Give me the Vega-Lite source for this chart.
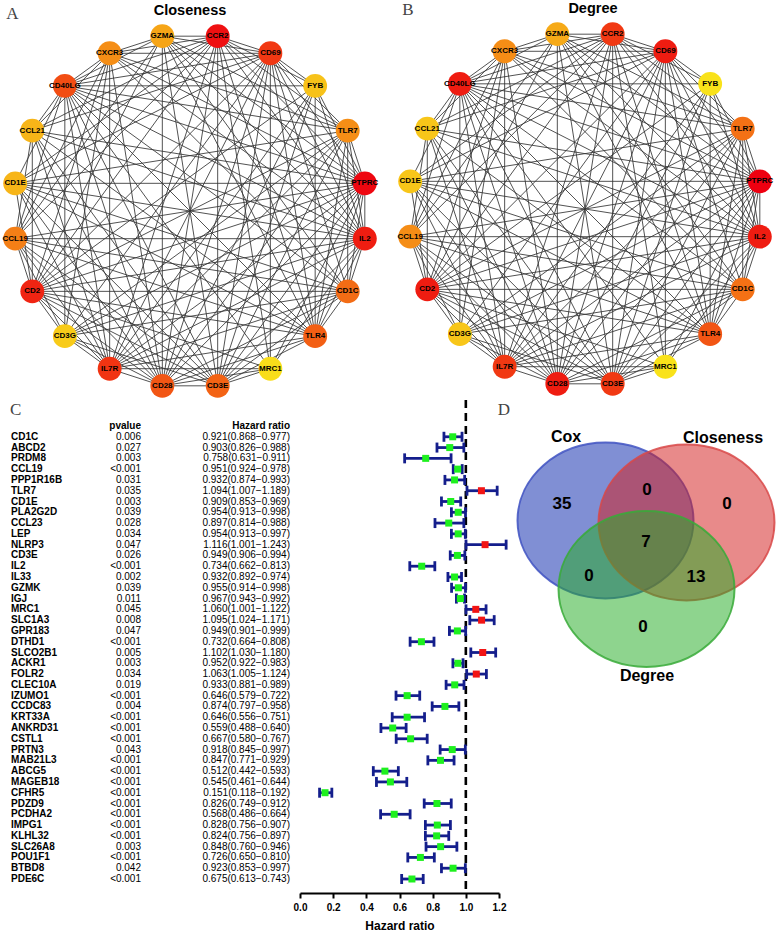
{
"$schema":"https://vega.github.io/schema/vega-lite/v6.json",
"padding":0,"background":"white","spacing":0,"bounds":"flush",
"config":{"view":{"stroke":null},"font":"Liberation Sans","axis":{"grid":false}},
"datasets":{
"nodes":[
{"id":"GZMA","x":-0.1564,"y":0.9877,"deg":13,"clo":0.708},
{"id":"CCR2","x":0.1564,"y":0.9877,"deg":17,"clo":0.972},
{"id":"CD69","x":0.4540,"y":0.8910,"deg":18,"clo":0.900},
{"id":"FYB","x":0.7071,"y":0.7071,"deg":10,"clo":0.656},
{"id":"TLR7","x":0.8910,"y":0.4540,"deg":15,"clo":0.748},
{"id":"PTPRC","x":0.9877,"y":0.1564,"deg":19,"clo":0.988},
{"id":"IL2","x":0.9877,"y":-0.1564,"deg":18,"clo":0.948},
{"id":"CD1C","x":0.8910,"y":-0.4540,"deg":15,"clo":0.808},
{"id":"TLR4","x":0.7071,"y":-0.7071,"deg":16,"clo":0.832},
{"id":"MRC1","x":0.4540,"y":-0.8910,"deg":9,"clo":0.608},
{"id":"CD3E","x":0.1564,"y":-0.9877,"deg":17,"clo":0.824},
{"id":"CD28","x":-0.1564,"y":-0.9877,"deg":18,"clo":0.848},
{"id":"IL7R","x":-0.4540,"y":-0.8910,"deg":17,"clo":0.908},
{"id":"CD3G","x":-0.7071,"y":-0.7071,"deg":12,"clo":0.640},
{"id":"CD2","x":-0.8910,"y":-0.4540,"deg":18,"clo":0.936},
{"id":"CCL19","x":-0.9877,"y":-0.1564,"deg":14,"clo":0.776},
{"id":"CD1E","x":-0.9877,"y":0.1564,"deg":12,"clo":0.680},
{"id":"CCL21","x":-0.8910,"y":0.4540,"deg":12,"clo":0.680},
{"id":"CD40LG","x":-0.7071,"y":0.7071,"deg":18,"clo":0.864},
{"id":"CXCR3","x":-0.4540,"y":0.8910,"deg":14,"clo":0.748}
],
"edges":[
{"s":"GZMA","t":"CCR2"},{"s":"GZMA","t":"CD69"},{"s":"GZMA","t":"TLR7"},{"s":"GZMA","t":"PTPRC"},{"s":"GZMA","t":"IL2"},{"s":"GZMA","t":"CD1C"},{"s":"GZMA","t":"TLR4"},{"s":"GZMA","t":"CD3E"},{"s":"GZMA","t":"CD28"},{"s":"GZMA","t":"CD2"},{"s":"GZMA","t":"CCL19"},{"s":"GZMA","t":"CD40LG"},{"s":"GZMA","t":"CXCR3"},
{"s":"CCR2","t":"CD69"},{"s":"CCR2","t":"FYB"},{"s":"CCR2","t":"TLR7"},{"s":"CCR2","t":"PTPRC"},{"s":"CCR2","t":"IL2"},{"s":"CCR2","t":"TLR4"},{"s":"CCR2","t":"MRC1"},{"s":"CCR2","t":"CD3E"},{"s":"CCR2","t":"CD28"},{"s":"CCR2","t":"IL7R"},{"s":"CCR2","t":"CD2"},{"s":"CCR2","t":"CCL19"},{"s":"CCR2","t":"CD1E"},{"s":"CCR2","t":"CCL21"},{"s":"CCR2","t":"CD40LG"},{"s":"CCR2","t":"CXCR3"},
{"s":"CD69","t":"FYB"},{"s":"CD69","t":"TLR7"},{"s":"CD69","t":"PTPRC"},{"s":"CD69","t":"IL2"},{"s":"CD69","t":"CD1C"},{"s":"CD69","t":"TLR4"},{"s":"CD69","t":"MRC1"},{"s":"CD69","t":"CD3E"},{"s":"CD69","t":"CD28"},{"s":"CD69","t":"IL7R"},{"s":"CD69","t":"CD3G"},{"s":"CD69","t":"CD2"},{"s":"CD69","t":"CD1E"},{"s":"CD69","t":"CCL21"},{"s":"CD69","t":"CD40LG"},{"s":"CD69","t":"CXCR3"},
{"s":"FYB","t":"PTPRC"},{"s":"FYB","t":"IL2"},{"s":"FYB","t":"TLR4"},{"s":"FYB","t":"CD3E"},{"s":"FYB","t":"CD28"},{"s":"FYB","t":"IL7R"},{"s":"FYB","t":"CD2"},{"s":"FYB","t":"CD40LG"},
{"s":"TLR7","t":"PTPRC"},{"s":"TLR7","t":"IL2"},{"s":"TLR7","t":"CD1C"},{"s":"TLR7","t":"TLR4"},{"s":"TLR7","t":"CD3E"},{"s":"TLR7","t":"CD28"},{"s":"TLR7","t":"IL7R"},{"s":"TLR7","t":"CD3G"},{"s":"TLR7","t":"CD2"},{"s":"TLR7","t":"CD1E"},{"s":"TLR7","t":"CD40LG"},{"s":"TLR7","t":"CXCR3"},
{"s":"PTPRC","t":"IL2"},{"s":"PTPRC","t":"CD1C"},{"s":"PTPRC","t":"TLR4"},{"s":"PTPRC","t":"MRC1"},{"s":"PTPRC","t":"CD3E"},{"s":"PTPRC","t":"CD28"},{"s":"PTPRC","t":"IL7R"},{"s":"PTPRC","t":"CD3G"},{"s":"PTPRC","t":"CD2"},{"s":"PTPRC","t":"CCL19"},{"s":"PTPRC","t":"CD1E"},{"s":"PTPRC","t":"CCL21"},{"s":"PTPRC","t":"CD40LG"},{"s":"PTPRC","t":"CXCR3"},
{"s":"IL2","t":"CD1C"},{"s":"IL2","t":"TLR4"},{"s":"IL2","t":"MRC1"},{"s":"IL2","t":"CD3E"},{"s":"IL2","t":"IL7R"},{"s":"IL2","t":"CD3G"},{"s":"IL2","t":"CD2"},{"s":"IL2","t":"CCL19"},{"s":"IL2","t":"CD1E"},{"s":"IL2","t":"CCL21"},{"s":"IL2","t":"CD40LG"},{"s":"IL2","t":"CXCR3"},
{"s":"CD1C","t":"TLR4"},{"s":"CD1C","t":"CD3E"},{"s":"CD1C","t":"CD28"},{"s":"CD1C","t":"IL7R"},{"s":"CD1C","t":"CD3G"},{"s":"CD1C","t":"CD2"},{"s":"CD1C","t":"CCL19"},{"s":"CD1C","t":"CD1E"},{"s":"CD1C","t":"CD40LG"},{"s":"CD1C","t":"CXCR3"},
{"s":"TLR4","t":"CD3E"},{"s":"TLR4","t":"CD28"},{"s":"TLR4","t":"IL7R"},{"s":"TLR4","t":"CD2"},{"s":"TLR4","t":"CCL19"},{"s":"TLR4","t":"CD1E"},{"s":"TLR4","t":"CCL21"},{"s":"TLR4","t":"CD40LG"},
{"s":"MRC1","t":"CD3E"},{"s":"MRC1","t":"CD28"},{"s":"MRC1","t":"IL7R"},{"s":"MRC1","t":"CD2"},{"s":"MRC1","t":"CD40LG"},
{"s":"CD3E","t":"CD28"},{"s":"CD3E","t":"CD3G"},{"s":"CD3E","t":"CD2"},{"s":"CD3E","t":"CCL19"},{"s":"CD3E","t":"CD1E"},{"s":"CD3E","t":"CCL21"},{"s":"CD3E","t":"CD40LG"},
{"s":"CD28","t":"IL7R"},{"s":"CD28","t":"CD3G"},{"s":"CD28","t":"CD2"},{"s":"CD28","t":"CCL19"},{"s":"CD28","t":"CD1E"},{"s":"CD28","t":"CCL21"},{"s":"CD28","t":"CD40LG"},{"s":"CD28","t":"CXCR3"},
{"s":"IL7R","t":"CD3G"},{"s":"IL7R","t":"CD2"},{"s":"IL7R","t":"CCL19"},{"s":"IL7R","t":"CD1E"},{"s":"IL7R","t":"CCL21"},{"s":"IL7R","t":"CD40LG"},{"s":"IL7R","t":"CXCR3"},
{"s":"CD3G","t":"CD2"},{"s":"CD3G","t":"CCL19"},{"s":"CD3G","t":"CD40LG"},{"s":"CD3G","t":"CXCR3"},
{"s":"CD2","t":"CCL19"},{"s":"CD2","t":"CD1E"},{"s":"CD2","t":"CCL21"},{"s":"CD2","t":"CXCR3"},
{"s":"CCL19","t":"CCL21"},{"s":"CCL19","t":"CD40LG"},{"s":"CCL19","t":"CXCR3"},
{"s":"CD1E","t":"CD40LG"},
{"s":"CCL21","t":"CD40LG"},{"s":"CCL21","t":"CXCR3"},
{"s":"CD40LG","t":"CXCR3"}
],
"genes":[
{"gene":"CD1C","p":"0.006","hr":0.921,"lo":0.868,"hi":0.977,"hrText":"0.921(0.868−0.977)"},
{"gene":"ABCD2","p":"0.027","hr":0.903,"lo":0.826,"hi":0.988,"hrText":"0.903(0.826−0.988)"},
{"gene":"PRDM8","p":"0.003","hr":0.758,"lo":0.631,"hi":0.911,"hrText":"0.758(0.631−0.911)"},
{"gene":"CCL19","p":"<0.001","hr":0.951,"lo":0.924,"hi":0.978,"hrText":"0.951(0.924−0.978)"},
{"gene":"PPP1R16B","p":"0.031","hr":0.932,"lo":0.874,"hi":0.993,"hrText":"0.932(0.874−0.993)"},
{"gene":"TLR7","p":"0.035","hr":1.094,"lo":1.007,"hi":1.189,"hrText":"1.094(1.007−1.189)"},
{"gene":"CD1E","p":"0.003","hr":0.909,"lo":0.853,"hi":0.969,"hrText":"0.909(0.853−0.969)"},
{"gene":"PLA2G2D","p":"0.039","hr":0.954,"lo":0.913,"hi":0.998,"hrText":"0.954(0.913−0.998)"},
{"gene":"CCL23","p":"0.028","hr":0.897,"lo":0.814,"hi":0.988,"hrText":"0.897(0.814−0.988)"},
{"gene":"LEP","p":"0.034","hr":0.954,"lo":0.913,"hi":0.997,"hrText":"0.954(0.913−0.997)"},
{"gene":"NLRP3","p":"0.047","hr":1.116,"lo":1.001,"hi":1.243,"hrText":"1.116(1.001−1.243)"},
{"gene":"CD3E","p":"0.026","hr":0.949,"lo":0.906,"hi":0.994,"hrText":"0.949(0.906−0.994)"},
{"gene":"IL2","p":"<0.001","hr":0.734,"lo":0.662,"hi":0.813,"hrText":"0.734(0.662−0.813)"},
{"gene":"IL33","p":"0.002","hr":0.932,"lo":0.892,"hi":0.974,"hrText":"0.932(0.892−0.974)"},
{"gene":"GZMK","p":"0.039","hr":0.955,"lo":0.914,"hi":0.998,"hrText":"0.955(0.914−0.998)"},
{"gene":"IGJ","p":"0.011","hr":0.967,"lo":0.943,"hi":0.992,"hrText":"0.967(0.943−0.992)"},
{"gene":"MRC1","p":"0.045","hr":1.060,"lo":1.001,"hi":1.122,"hrText":"1.060(1.001−1.122)"},
{"gene":"SLC1A3","p":"0.008","hr":1.095,"lo":1.024,"hi":1.171,"hrText":"1.095(1.024−1.171)"},
{"gene":"GPR183","p":"0.047","hr":0.949,"lo":0.901,"hi":0.999,"hrText":"0.949(0.901−0.999)"},
{"gene":"DTHD1","p":"<0.001","hr":0.732,"lo":0.664,"hi":0.808,"hrText":"0.732(0.664−0.808)"},
{"gene":"SLCO2B1","p":"0.005","hr":1.102,"lo":1.030,"hi":1.180,"hrText":"1.102(1.030−1.180)"},
{"gene":"ACKR1","p":"0.003","hr":0.952,"lo":0.922,"hi":0.983,"hrText":"0.952(0.922−0.983)"},
{"gene":"FOLR2","p":"0.034","hr":1.063,"lo":1.005,"hi":1.124,"hrText":"1.063(1.005−1.124)"},
{"gene":"CLEC10A","p":"0.019","hr":0.933,"lo":0.881,"hi":0.989,"hrText":"0.933(0.881−0.989)"},
{"gene":"IZUMO1","p":"<0.001","hr":0.646,"lo":0.579,"hi":0.722,"hrText":"0.646(0.579−0.722)"},
{"gene":"CCDC83","p":"0.004","hr":0.874,"lo":0.797,"hi":0.958,"hrText":"0.874(0.797−0.958)"},
{"gene":"KRT33A","p":"<0.001","hr":0.646,"lo":0.556,"hi":0.751,"hrText":"0.646(0.556−0.751)"},
{"gene":"ANKRD31","p":"<0.001","hr":0.559,"lo":0.488,"hi":0.640,"hrText":"0.559(0.488−0.640)"},
{"gene":"CSTL1","p":"<0.001","hr":0.667,"lo":0.580,"hi":0.767,"hrText":"0.667(0.580−0.767)"},
{"gene":"PRTN3","p":"0.043","hr":0.918,"lo":0.845,"hi":0.997,"hrText":"0.918(0.845−0.997)"},
{"gene":"MAB21L3","p":"<0.001","hr":0.847,"lo":0.771,"hi":0.929,"hrText":"0.847(0.771−0.929)"},
{"gene":"ABCG5","p":"<0.001","hr":0.512,"lo":0.442,"hi":0.593,"hrText":"0.512(0.442−0.593)"},
{"gene":"MAGEB18","p":"<0.001","hr":0.545,"lo":0.461,"hi":0.644,"hrText":"0.545(0.461−0.644)"},
{"gene":"CFHR5","p":"<0.001","hr":0.151,"lo":0.118,"hi":0.192,"hrText":"0.151(0.118−0.192)"},
{"gene":"PDZD9","p":"<0.001","hr":0.826,"lo":0.749,"hi":0.912,"hrText":"0.826(0.749−0.912)"},
{"gene":"PCDHA2","p":"<0.001","hr":0.568,"lo":0.486,"hi":0.664,"hrText":"0.568(0.486−0.664)"},
{"gene":"IMPG1","p":"<0.001","hr":0.828,"lo":0.756,"hi":0.907,"hrText":"0.828(0.756−0.907)"},
{"gene":"KLHL32","p":"<0.001","hr":0.824,"lo":0.756,"hi":0.897,"hrText":"0.824(0.756−0.897)"},
{"gene":"SLC26A8","p":"0.003","hr":0.848,"lo":0.760,"hi":0.946,"hrText":"0.848(0.760−0.946)"},
{"gene":"POU1F1","p":"<0.001","hr":0.726,"lo":0.650,"hi":0.810,"hrText":"0.726(0.650−0.810)"},
{"gene":"BTBD8","p":"0.042","hr":0.923,"lo":0.853,"hi":0.997,"hrText":"0.923(0.853−0.997)"},
{"gene":"PDE6C","p":"<0.001","hr":0.675,"lo":0.613,"hi":0.743,"hrText":"0.675(0.613−0.743)"}
],
"venn":[
{"set":"Cox","x":-0.405,"y":0.395},
{"set":"Closeness","x":0.405,"y":0.375},
{"set":"Degree","x":0.005,"y":-0.29}
],
"vennSets":[
{"label":"Cox","x":-0.80,"y":1.23},
{"label":"Closeness","x":0.77,"y":1.22},
{"label":"Degree","x":0.01,"y":-1.16}
],
"vennCounts":[
{"n":"35","x":-0.84,"y":0.56},
{"n":"0","x":0.01,"y":0.70},
{"n":"0","x":0.81,"y":0.56},
{"n":"7","x":0.0,"y":0.18},
{"n":"0","x":-0.57,"y":-0.16},
{"n":"13","x":0.50,"y":-0.17},
{"n":"0","x":-0.03,"y":-0.67}
]
},
"vconcat":[
{"width":777,"height":398,
"resolve":{"scale":{"x":"independent","y":"independent","color":"independent"}},
"layer":[
{"data":{"name":"edges"},
"transform":[{"lookup":"s","from":{"data":{"name":"nodes"},"key":"id","fields":["x","y"]},"as":["x1","y1"]},{"lookup":"t","from":{"data":{"name":"nodes"},"key":"id","fields":["x","y"]},"as":["x2","y2"]}],
"mark":{"type":"rule","color":"#333","strokeWidth":0.85},
"encoding":{"x":{"field":"x1","type":"quantitative","scale":{"domain":[-1,1],"range":[13,367],"nice":false,"zero":false},"axis":null},"y":{"field":"y1","type":"quantitative","scale":{"domain":[-1,1],"range":[386,32],"nice":false,"zero":false},"axis":null},"x2":{"field":"x2"},"y2":{"field":"y2"}}},
{"data":{"name":"nodes"},"mark":{"type":"circle","size":570,"opacity":1},
"encoding":{"x":{"field":"x","type":"quantitative","scale":{"domain":[-1,1],"range":[13,367],"nice":false,"zero":false},"axis":null},"y":{"field":"y","type":"quantitative","scale":{"domain":[-1,1],"range":[386,32],"nice":false,"zero":false},"axis":null},
"color":{"field":"clo","type":"quantitative","scale":{"domain":[0.6,1.0],"range":["#f9e21a","#ee0010"],"interpolate":"rgb","clamp":true},"legend":null}}},
{"data":{"name":"nodes"},"mark":{"type":"text","fontSize":8,"fontWeight":"bold","color":"black","baseline":"middle"},
"encoding":{"x":{"field":"x","type":"quantitative","scale":{"domain":[-1,1],"range":[13,367],"nice":false,"zero":false},"axis":null},"y":{"field":"y","type":"quantitative","scale":{"domain":[-1,1],"range":[386,32],"nice":false,"zero":false},"axis":null},"text":{"field":"id"}}},
{"data":{"values":[{"t":"Closeness"}]},"mark":{"type":"text","fontSize":14.5,"fontWeight":"bold","color":"black","baseline":"middle"},
"encoding":{"x":{"datum":0,"type":"quantitative","scale":{"domain":[-1,1],"range":[13,367],"nice":false,"zero":false},"axis":null},"y":{"datum":1.13,"type":"quantitative","scale":{"domain":[-1,1],"range":[386,32],"nice":false,"zero":false},"axis":null},"text":{"field":"t"}}},
{"data":{"values":[{"t":"A"}]},"mark":{"type":"text","font":"Liberation Serif","fontSize":17,"color":"#444","baseline":"middle"},
"encoding":{"x":{"datum":-1.003,"type":"quantitative","scale":{"domain":[-1,1],"range":[13,367],"nice":false,"zero":false},"axis":null},"y":{"datum":1.113,"type":"quantitative","scale":{"domain":[-1,1],"range":[386,32],"nice":false,"zero":false},"axis":null},"text":{"field":"t"}}},
{"data":{"name":"edges"},
"transform":[{"lookup":"s","from":{"data":{"name":"nodes"},"key":"id","fields":["x","y"]},"as":["x1","y1"]},{"lookup":"t","from":{"data":{"name":"nodes"},"key":"id","fields":["x","y"]},"as":["x2","y2"]}],
"mark":{"type":"rule","color":"#333","strokeWidth":0.85},
"encoding":{"x":{"field":"x1","type":"quantitative","scale":{"domain":[-1,1],"range":[408,762],"nice":false,"zero":false},"axis":null},"y":{"field":"y1","type":"quantitative","scale":{"domain":[-1,1],"range":[384,30],"nice":false,"zero":false},"axis":null},"x2":{"field":"x2"},"y2":{"field":"y2"}}},
{"data":{"name":"nodes"},"mark":{"type":"circle","size":570,"opacity":1},
"encoding":{"x":{"field":"x","type":"quantitative","scale":{"domain":[-1,1],"range":[408,762],"nice":false,"zero":false},"axis":null},"y":{"field":"y","type":"quantitative","scale":{"domain":[-1,1],"range":[384,30],"nice":false,"zero":false},"axis":null},
"color":{"field":"deg","type":"quantitative","scale":{"domain":[11,19],"range":["#f9e21a","#ee0010"],"interpolate":"rgb","clamp":true},"legend":null}}},
{"data":{"name":"nodes"},"mark":{"type":"text","fontSize":8,"fontWeight":"bold","color":"black","baseline":"middle"},
"encoding":{"x":{"field":"x","type":"quantitative","scale":{"domain":[-1,1],"range":[408,762],"nice":false,"zero":false},"axis":null},"y":{"field":"y","type":"quantitative","scale":{"domain":[-1,1],"range":[384,30],"nice":false,"zero":false},"axis":null},"text":{"field":"id"}}},
{"data":{"values":[{"t":"Degree"}]},"mark":{"type":"text","fontSize":14.5,"fontWeight":"bold","color":"black","baseline":"middle"},
"encoding":{"x":{"datum":0.045,"type":"quantitative","scale":{"domain":[-1,1],"range":[408,762],"nice":false,"zero":false},"axis":null},"y":{"datum":1.13,"type":"quantitative","scale":{"domain":[-1,1],"range":[384,30],"nice":false,"zero":false},"axis":null},"text":{"field":"t"}}},
{"data":{"values":[{"t":"B"}]},"mark":{"type":"text","font":"Liberation Serif","fontSize":17,"color":"#444","baseline":"middle"},
"encoding":{"x":{"datum":-1.0,"type":"quantitative","scale":{"domain":[-1,1],"range":[408,762],"nice":false,"zero":false},"axis":null},"y":{"datum":1.124,"type":"quantitative","scale":{"domain":[-1,1],"range":[384,30],"nice":false,"zero":false},"axis":null},"text":{"field":"t"}}}
]},
{"width":777,"height":493,
"resolve":{"scale":{"x":"independent","y":"independent","color":"independent","fill":"independent","stroke":"independent"}},
"layer":[
{"data":{"name":"genes"},"mark":{"type":"text","align":"left","baseline":"middle","fontSize":10,"fontWeight":"bold","color":"black"},
"encoding":{"x":{"datum":"gene","type":"nominal","scale":{"type":"point","domain":["gene","pvalue","hr"],"range":[11,290],"padding":0,"round":false},"axis":null},
"y":{"field":"gene","type":"nominal","scale":{"type":"point","domain":["header","CD1C","ABCD2","PRDM8","CCL19","PPP1R16B","TLR7","CD1E","PLA2G2D","CCL23","LEP","NLRP3","CD3E","IL2","IL33","GZMK","IGJ","MRC1","SLC1A3","GPR183","DTHD1","SLCO2B1","ACKR1","FOLR2","CLEC10A","IZUMO1","CCDC83","KRT33A","ANKRD31","CSTL1","PRTN3","MAB21L3","ABCG5","MAGEB18","CFHR5","PDZD9","PCDHA2","IMPG1","KLHL32","SLC26A8","POU1F1","BTBD8","PDE6C"],"range":[26,479],"padding":0,"round":false},"axis":null},
"text":{"field":"gene"}}},
{"data":{"name":"genes"},"mark":{"type":"text","align":"right","baseline":"middle","fontSize":10,"color":"black","dx":-9.5},
"encoding":{"x":{"datum":"pvalue","type":"nominal","scale":{"type":"point","domain":["gene","pvalue","hr"],"range":[11,290],"padding":0,"round":false},"axis":null},
"y":{"field":"gene","type":"nominal","scale":{"type":"point","domain":["header","CD1C","ABCD2","PRDM8","CCL19","PPP1R16B","TLR7","CD1E","PLA2G2D","CCL23","LEP","NLRP3","CD3E","IL2","IL33","GZMK","IGJ","MRC1","SLC1A3","GPR183","DTHD1","SLCO2B1","ACKR1","FOLR2","CLEC10A","IZUMO1","CCDC83","KRT33A","ANKRD31","CSTL1","PRTN3","MAB21L3","ABCG5","MAGEB18","CFHR5","PDZD9","PCDHA2","IMPG1","KLHL32","SLC26A8","POU1F1","BTBD8","PDE6C"],"range":[26,479],"padding":0,"round":false},"axis":null},
"text":{"field":"p"}}},
{"data":{"name":"genes"},"mark":{"type":"text","align":"right","baseline":"middle","fontSize":10,"color":"black"},
"encoding":{"x":{"datum":"hr","type":"nominal","scale":{"type":"point","domain":["gene","pvalue","hr"],"range":[11,290],"padding":0,"round":false},"axis":null},
"y":{"field":"gene","type":"nominal","scale":{"type":"point","domain":["header","CD1C","ABCD2","PRDM8","CCL19","PPP1R16B","TLR7","CD1E","PLA2G2D","CCL23","LEP","NLRP3","CD3E","IL2","IL33","GZMK","IGJ","MRC1","SLC1A3","GPR183","DTHD1","SLCO2B1","ACKR1","FOLR2","CLEC10A","IZUMO1","CCDC83","KRT33A","ANKRD31","CSTL1","PRTN3","MAB21L3","ABCG5","MAGEB18","CFHR5","PDZD9","PCDHA2","IMPG1","KLHL32","SLC26A8","POU1F1","BTBD8","PDE6C"],"range":[26,479],"padding":0,"round":false},"axis":null},
"text":{"field":"hrText"}}},
{"data":{"values":[{"h":"Hazard ratio"}]},"mark":{"type":"text","align":"right","baseline":"middle","fontSize":10,"fontWeight":"bold","color":"black"},
"encoding":{"x":{"datum":"hr","type":"nominal","scale":{"type":"point","domain":["gene","pvalue","hr"],"range":[11,290],"padding":0,"round":false},"axis":null},
"y":{"datum":"header","type":"nominal","scale":{"type":"point","domain":["header","CD1C","ABCD2","PRDM8","CCL19","PPP1R16B","TLR7","CD1E","PLA2G2D","CCL23","LEP","NLRP3","CD3E","IL2","IL33","GZMK","IGJ","MRC1","SLC1A3","GPR183","DTHD1","SLCO2B1","ACKR1","FOLR2","CLEC10A","IZUMO1","CCDC83","KRT33A","ANKRD31","CSTL1","PRTN3","MAB21L3","ABCG5","MAGEB18","CFHR5","PDZD9","PCDHA2","IMPG1","KLHL32","SLC26A8","POU1F1","BTBD8","PDE6C"],"range":[26,479],"padding":0,"round":false},"axis":null},
"text":{"field":"h"}}},
{"data":{"values":[{"h":"pvalue"}]},"mark":{"type":"text","align":"right","baseline":"middle","fontSize":10,"fontWeight":"bold","color":"black","dx":-9.5},
"encoding":{"x":{"datum":"pvalue","type":"nominal","scale":{"type":"point","domain":["gene","pvalue","hr"],"range":[11,290],"padding":0,"round":false},"axis":null},
"y":{"datum":"header","type":"nominal","scale":{"type":"point","domain":["header","CD1C","ABCD2","PRDM8","CCL19","PPP1R16B","TLR7","CD1E","PLA2G2D","CCL23","LEP","NLRP3","CD3E","IL2","IL33","GZMK","IGJ","MRC1","SLC1A3","GPR183","DTHD1","SLCO2B1","ACKR1","FOLR2","CLEC10A","IZUMO1","CCDC83","KRT33A","ANKRD31","CSTL1","PRTN3","MAB21L3","ABCG5","MAGEB18","CFHR5","PDZD9","PCDHA2","IMPG1","KLHL32","SLC26A8","POU1F1","BTBD8","PDE6C"],"range":[26,479],"padding":0,"round":false},"axis":null},
"text":{"field":"h"}}},
{"data":{"values":[{"h":"C"}]},"mark":{"type":"text","align":"left","baseline":"middle","font":"Liberation Serif","fontSize":17,"color":"#444","dy":-16,"dx":-1},
"encoding":{"x":{"datum":"gene","type":"nominal","scale":{"type":"point","domain":["gene","pvalue","hr"],"range":[11,290],"padding":0,"round":false},"axis":null},
"y":{"datum":"header","type":"nominal","scale":{"type":"point","domain":["header","CD1C","ABCD2","PRDM8","CCL19","PPP1R16B","TLR7","CD1E","PLA2G2D","CCL23","LEP","NLRP3","CD3E","IL2","IL33","GZMK","IGJ","MRC1","SLC1A3","GPR183","DTHD1","SLCO2B1","ACKR1","FOLR2","CLEC10A","IZUMO1","CCDC83","KRT33A","ANKRD31","CSTL1","PRTN3","MAB21L3","ABCG5","MAGEB18","CFHR5","PDZD9","PCDHA2","IMPG1","KLHL32","SLC26A8","POU1F1","BTBD8","PDE6C"],"range":[26,479],"padding":0,"round":false},"axis":null},
"text":{"field":"h"}}},
{"data":{"values":[{"ref":1}]},"mark":{"type":"rule","strokeDash":[8,5],"strokeWidth":2.6,"color":"black"},
"encoding":{"x":{"field":"ref","type":"quantitative","scale":{"domain":[0,1.2],"range":[300,499],"nice":false,"zero":false},"axis":{"orient":"bottom","values":[0,0.2,0.4,0.6,0.8,1,1.2],"format":".1f","title":"Hazard ratio","titleFontSize":12,"titleFontWeight":"bold","titleColor":"black","titlePadding":8,"labelFontSize":10,"labelFontWeight":"bold","labelColor":"black","labelPadding":4,"labelFlush":false,"labelOverlap":false,"domainColor":"black","domainWidth":2,"tickColor":"black","tickWidth":2,"tickSize":5,"grid":false}}}},
{"data":{"name":"genes"},"mark":{"type":"rule","color":"#141e8c","strokeWidth":2.8},
"encoding":{"x":{"field":"lo","type":"quantitative","scale":{"domain":[0,1.2],"range":[300,499],"nice":false,"zero":false},"axis":null},"x2":{"field":"hi"},
"y":{"field":"gene","type":"nominal","scale":{"type":"point","domain":["header","CD1C","ABCD2","PRDM8","CCL19","PPP1R16B","TLR7","CD1E","PLA2G2D","CCL23","LEP","NLRP3","CD3E","IL2","IL33","GZMK","IGJ","MRC1","SLC1A3","GPR183","DTHD1","SLCO2B1","ACKR1","FOLR2","CLEC10A","IZUMO1","CCDC83","KRT33A","ANKRD31","CSTL1","PRTN3","MAB21L3","ABCG5","MAGEB18","CFHR5","PDZD9","PCDHA2","IMPG1","KLHL32","SLC26A8","POU1F1","BTBD8","PDE6C"],"range":[26,479],"padding":0,"round":false},"axis":null}}},
{"data":{"name":"genes"},"mark":{"type":"tick","color":"#141e8c","thickness":2.8,"size":10,"opacity":1},
"encoding":{"x":{"field":"lo","type":"quantitative","scale":{"domain":[0,1.2],"range":[300,499],"nice":false,"zero":false},"axis":null},
"y":{"field":"gene","type":"nominal","scale":{"type":"point","domain":["header","CD1C","ABCD2","PRDM8","CCL19","PPP1R16B","TLR7","CD1E","PLA2G2D","CCL23","LEP","NLRP3","CD3E","IL2","IL33","GZMK","IGJ","MRC1","SLC1A3","GPR183","DTHD1","SLCO2B1","ACKR1","FOLR2","CLEC10A","IZUMO1","CCDC83","KRT33A","ANKRD31","CSTL1","PRTN3","MAB21L3","ABCG5","MAGEB18","CFHR5","PDZD9","PCDHA2","IMPG1","KLHL32","SLC26A8","POU1F1","BTBD8","PDE6C"],"range":[26,479],"padding":0,"round":false},"axis":null}}},
{"data":{"name":"genes"},"mark":{"type":"tick","color":"#141e8c","thickness":2.8,"size":10,"opacity":1},
"encoding":{"x":{"field":"hi","type":"quantitative","scale":{"domain":[0,1.2],"range":[300,499],"nice":false,"zero":false},"axis":null},
"y":{"field":"gene","type":"nominal","scale":{"type":"point","domain":["header","CD1C","ABCD2","PRDM8","CCL19","PPP1R16B","TLR7","CD1E","PLA2G2D","CCL23","LEP","NLRP3","CD3E","IL2","IL33","GZMK","IGJ","MRC1","SLC1A3","GPR183","DTHD1","SLCO2B1","ACKR1","FOLR2","CLEC10A","IZUMO1","CCDC83","KRT33A","ANKRD31","CSTL1","PRTN3","MAB21L3","ABCG5","MAGEB18","CFHR5","PDZD9","PCDHA2","IMPG1","KLHL32","SLC26A8","POU1F1","BTBD8","PDE6C"],"range":[26,479],"padding":0,"round":false},"axis":null}}},
{"data":{"name":"genes"},"mark":{"type":"square","size":49,"opacity":1},
"encoding":{"x":{"field":"hr","type":"quantitative","scale":{"domain":[0,1.2],"range":[300,499],"nice":false,"zero":false},"axis":null},
"y":{"field":"gene","type":"nominal","scale":{"type":"point","domain":["header","CD1C","ABCD2","PRDM8","CCL19","PPP1R16B","TLR7","CD1E","PLA2G2D","CCL23","LEP","NLRP3","CD3E","IL2","IL33","GZMK","IGJ","MRC1","SLC1A3","GPR183","DTHD1","SLCO2B1","ACKR1","FOLR2","CLEC10A","IZUMO1","CCDC83","KRT33A","ANKRD31","CSTL1","PRTN3","MAB21L3","ABCG5","MAGEB18","CFHR5","PDZD9","PCDHA2","IMPG1","KLHL32","SLC26A8","POU1F1","BTBD8","PDE6C"],"range":[26,479],"padding":0,"round":false},"axis":null},
"color":{"condition":{"test":"datum.hr > 1","value":"#f21414"},"value":"#1ef01e"}}},
{"data":{"name":"venn"},
"mark":{"type":"point","shape":"M-1,0C-1,-0.4888,-0.5523,-0.885,0,-0.885C0.5523,-0.885,1,-0.4888,1,0C1,0.4888,0.5523,0.885,0,0.885C-0.5523,0.885,-1,0.4888,-1,0Z","size":30976,"filled":true,"opacity":1,"fillOpacity":0.52,"strokeWidth":2,"strokeOpacity":0.85},
"encoding":{"x":{"field":"x","type":"quantitative","scale":{"domain":[-1.47,1.31],"range":[499,777],"nice":false,"zero":false},"axis":null},"y":{"field":"y","type":"quantitative","scale":{"domain":[-3.33,1.60],"range":[493,0],"nice":false,"zero":false},"axis":null},
"fill":{"field":"set","type":"nominal","scale":{"domain":["Cox","Closeness","Degree"],"range":["#0b28ac","#d31e1e","#26ac26"]},"legend":null},
"stroke":{"field":"set","type":"nominal","scale":{"domain":["Cox","Closeness","Degree"],"range":["#3f52c2","#d84848","#38aa38"]},"legend":null}}},
{"data":{"name":"vennSets"},"mark":{"type":"text","fontSize":16,"fontWeight":"bold","color":"black","baseline":"middle"},
"encoding":{"x":{"field":"x","type":"quantitative","scale":{"domain":[-1.47,1.31],"range":[499,777],"nice":false,"zero":false},"axis":null},"y":{"field":"y","type":"quantitative","scale":{"domain":[-3.33,1.60],"range":[493,0],"nice":false,"zero":false},"axis":null},"text":{"field":"label"}}},
{"data":{"name":"vennCounts"},"mark":{"type":"text","fontSize":17,"fontWeight":"bold","color":"black","baseline":"middle"},
"encoding":{"x":{"field":"x","type":"quantitative","scale":{"domain":[-1.47,1.31],"range":[499,777],"nice":false,"zero":false},"axis":null},"y":{"field":"y","type":"quantitative","scale":{"domain":[-3.33,1.60],"range":[493,0],"nice":false,"zero":false},"axis":null},"text":{"field":"n"}}},
{"data":{"values":[{"t":"D"}]},"mark":{"type":"text","font":"Liberation Serif","fontSize":17,"color":"#444","baseline":"middle"},
"encoding":{"x":{"datum":-1.42,"type":"quantitative","scale":{"domain":[-1.47,1.31],"range":[499,777],"nice":false,"zero":false},"axis":null},"y":{"datum":1.505,"type":"quantitative","scale":{"domain":[-3.33,1.60],"range":[493,0],"nice":false,"zero":false},"axis":null},"text":{"field":"t"}}}
]}
]
}
